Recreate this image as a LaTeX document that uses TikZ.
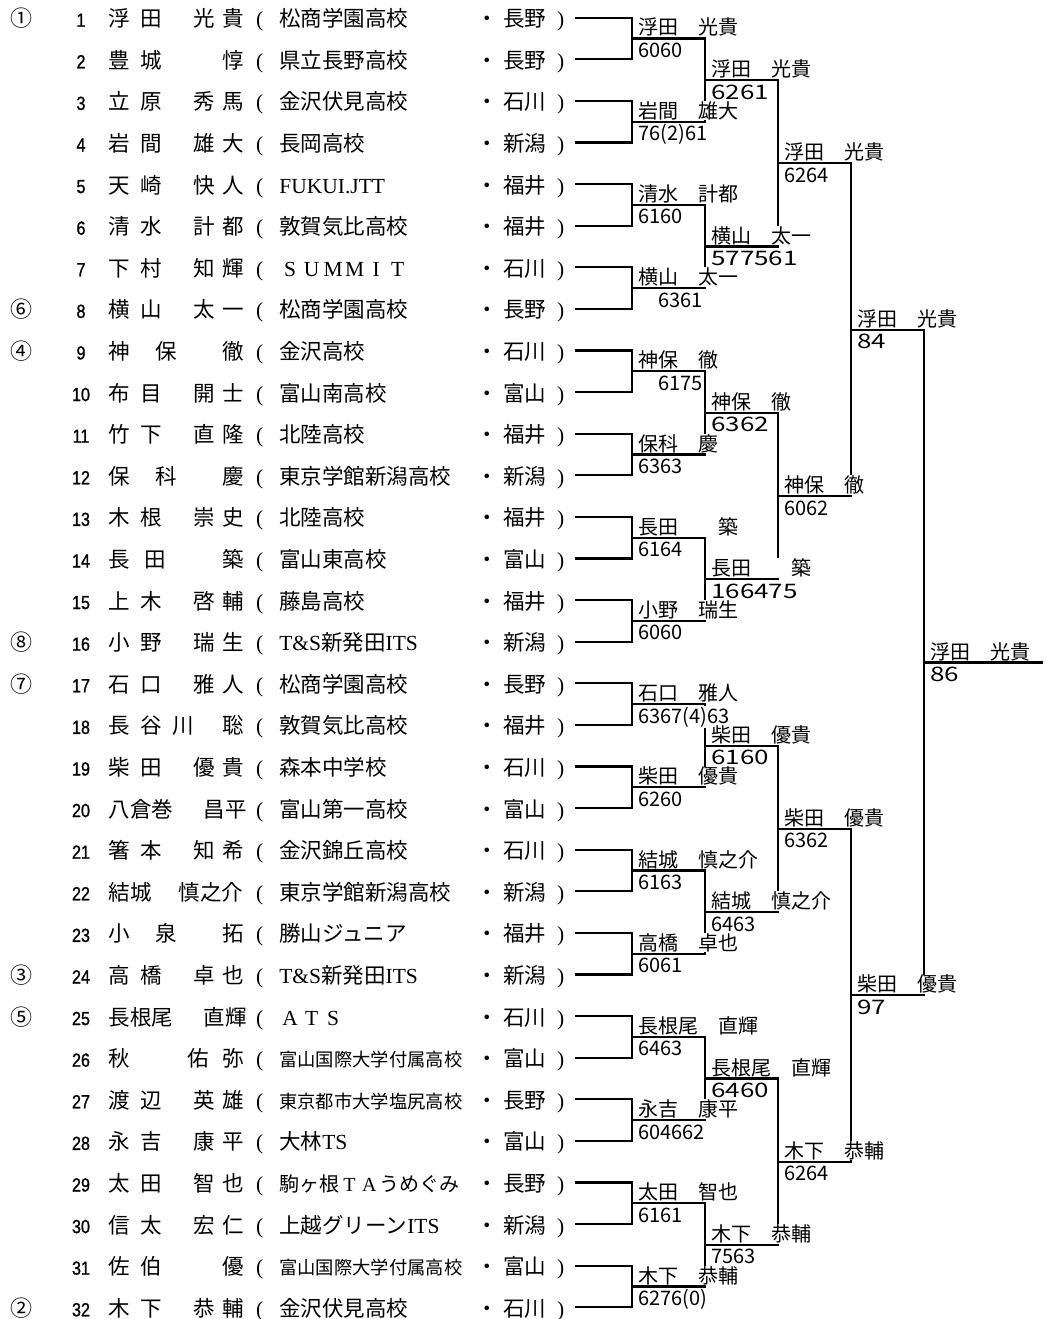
\documentclass[tikz,border=0pt]{standalone}
\usepackage{fontspec}
\setmainfont{Noto Sans CJK JP}
\newfontfamily\latf{Liberation Serif}
\newfontfamily\numf[FakeStretch=0.85,FakeBold=1]{Liberation Sans}
\newcommand\chat[2]{\makebox[0pt][l]{\hspace*{#1pt}#2}}
\newcommand\nmA[4]{\chat{0}{#1}\chat{32}{#2}\chat{85}{#3}\chat{114}{#4}}
\newcommand\nmB[3]{\chat{0}{#1}\chat{32}{#2}\chat{114}{#3}}
\newcommand\nmC[3]{\chat{0}{#1}\chat{47}{#2}\chat{114}{#3}}
\newcommand\fwl[1]{\makebox[1em]{\latf #1}}
\newcommand\wsc{\addfontfeature{FakeStretch=1.3}}
\newcommand\smsch{\fontsize{18.3}{20}\selectfont}
\newcommand\midsch{\fontsize{20}{22}\selectfont}

\begin{document}
\begin{tikzpicture}[x=1pt,y=-1pt,
  bk/.style={line width=2.2pt},
  lft/.style={anchor=base west, inner sep=0pt, font=\fontsize{21.5}{24}\selectfont},
  numtxt/.style={anchor=base, inner sep=0pt, font=\numf\fontsize{19}{21}\selectfont},
  seedtxt/.style={anchor=base, inner sep=0pt, font=\fontsize{22}{24}\selectfont},
  win/.style={anchor=base west, fill=white, inner xsep=1pt, inner ysep=0.5pt, font=\fontsize{20}{22}\selectfont},
  res/.style={anchor=base west, fill=white, inner xsep=1pt, inner ysep=0.5pt, font=\fontsize{20}{22}\selectfont}]
\useasboundingbox (0,0) rectangle (1046,1319);

% slots of the draw
\foreach \i in {1,...,32} \coordinate (p\i) at (575,{17.7+41.6*(\i-1)});
\foreach \k in {1,...,16} \coordinate (a\k) at (632,{38.5+83.2*(\k-1)});
\foreach \k in {1,...,8} \coordinate (b\k) at (705,{80.1+166.4*(\k-1)});
\foreach \k in {1,...,4} \coordinate (c\k) at (778,{163.3+332.8*(\k-1)});
\foreach \k in {1,2} \coordinate (d\k) at (851,{329.7+665.6*(\k-1)});
\coordinate (e) at (924,662.5);
\coordinate (f) at (1043,662.5);

% bracket lines
\foreach \k [evaluate=\k as \u using int(2*\k-1), evaluate=\k as \v using int(2*\k)] in {1,...,16}
  \draw[bk] (p\u) -| (a\k) |- (p\v);
\foreach \k [evaluate=\k as \u using int(2*\k-1), evaluate=\k as \v using int(2*\k)] in {1,...,8}
  \draw[bk] (a\u) -| (b\k) |- (a\v);
\foreach \k [evaluate=\k as \u using int(2*\k-1), evaluate=\k as \v using int(2*\k)] in {1,...,4}
  \draw[bk] (b\u) -| (c\k) |- (b\v);
\foreach \k [evaluate=\k as \u using int(2*\k-1), evaluate=\k as \v using int(2*\k)] in {1,2}
  \draw[bk] (c\u) -| (d\k) |- (c\v);
\draw[bk] (d1) -| (e) |- (d2);
\draw[bk] (e) -- (f);

% seeds
\node[seedtxt] (s1) at (21,{26.7+41.6*0}) {①};
\node[seedtxt] (s6) at (21,{26.7+41.6*7}) {⑥};
\node[seedtxt] (s4) at (21,{26.7+41.6*8}) {④};
\node[seedtxt] (s8) at (21,{26.7+41.6*15}) {⑧};
\node[seedtxt] (s7) at (21,{26.7+41.6*16}) {⑦};
\node[seedtxt] (s3) at (21,{26.7+41.6*23}) {③};
\node[seedtxt] (s5) at (21,{26.7+41.6*24}) {⑤};
\node[seedtxt] (s2) at (21,{26.7+41.6*31}) {②};

% players
\foreach \i/\nm/\sch/\pf in {
  1/\nmA{浮}{田}{光}{貴}/松商学園高校/長野,
  2/\nmB{豊}{城}{惇}/県立長野高校/長野,
  3/\nmA{立}{原}{秀}{馬}/金沢伏見高校/石川,
  4/\nmA{岩}{間}{雄}{大}/長岡高校/新潟,
  5/\nmA{天}{崎}{快}{人}/{\latf FUKUI.JTT}/福井,
  6/\nmA{清}{水}{計}{都}/敦賀気比高校/福井,
  7/\nmA{下}{村}{知}{輝}/{\fwl{S}\fwl{U}\fwl{M}\fwl{M}\fwl{I}\fwl{T}}/石川,
  8/\nmA{横}{山}{太}{一}/松商学園高校/長野,
  9/\nmC{神}{保}{徹}/金沢高校/石川,
  10/\nmA{布}{目}{開}{士}/富山南高校/富山,
  11/\nmA{竹}{下}{直}{隆}/北陸高校/福井,
  12/\nmC{保}{科}{慶}/東京学館新潟高校/新潟,
  13/\nmA{木}{根}{崇}{史}/北陸高校/福井,
  14/{\chat{0}{長}\chat{36}{田}\chat{114}{築}}/富山東高校/富山,
  15/\nmA{上}{木}{啓}{輔}/藤島高校/福井,
  16/\nmA{小}{野}{瑞}{生}/{{\latf T\&S}新発田{\latf ITS}}/新潟,
  17/\nmA{石}{口}{雅}{人}/松商学園高校/長野,
  18/{\chat{0}{長}\chat{32}{谷}\chat{64}{川}\chat{114}{聡}}/敦賀気比高校/福井,
  19/\nmA{柴}{田}{優}{貴}/森本中学校/石川,
  20/{\chat{0}{八倉巻}\chat{95}{昌平}}/富山第一高校/富山,
  21/\nmA{箸}{本}{知}{希}/金沢錦丘高校/石川,
  22/{\chat{0}{結城}\chat{70}{慎之介}}/東京学館新潟高校/新潟,
  23/\nmC{小}{泉}{拓}/勝山ジュニア/福井,
  24/\nmA{高}{橋}{卓}{也}/{{\latf T\&S}新発田{\latf ITS}}/新潟,
  25/{\chat{0}{長根尾}\chat{95}{直輝}}/{\fwl{A}\fwl{T}\fwl{S}}/石川,
  26/{\chat{0}{秋}\chat{79}{佑}\chat{114}{弥}}/{\smsch 富山国際大学付属高校}/富山,
  27/\nmA{渡}{辺}{英}{雄}/{\smsch 東京都市大学塩尻高校}/長野,
  28/\nmA{永}{吉}{康}{平}/{大林{\latf TS}}/富山,
  29/\nmA{太}{田}{智}{也}/{\midsch 駒ヶ根\fwl{T}\fwl{A}うめぐみ}/長野,
  30/\nmA{信}{太}{宏}{仁}/{上越グリーン{\latf ITS}}/新潟,
  31/\nmB{佐}{伯}{優}/{\smsch 富山国際大学付属高校}/富山,
  32/\nmA{木}{下}{恭}{輔}/金沢伏見高校/石川}
{
  \node[numtxt] (num\i) at (81,{26.7+41.6*(\i-1)}) {\i};
  \node[lft] (name\i) at (108,{26.7+41.6*(\i-1)}) {\nm};
  \node[lft] (sch\i) at (256,{26.7+41.6*(\i-1)}) {{\latf (}\hspace{16pt}\sch};
  \node[lft] (pf\i) at (476,{26.7+41.6*(\i-1)}) {・\hspace{5.5pt}\pf\hspace{11pt}{\latf )}};
}

% first round
\foreach \k/\w/\s/\dx in {1/浮田　光貴/6060/5, 2/岩間　雄大/76(2)61/5,
  3/清水　計都/6160/5, 4/横山　太一/6361/25, 5/神保　徹/6175/25,
  6/保科　慶/6363/5, 7/長田　　築/6164/5, 8/小野　瑞生/6060/5,
  9/石口　雅人/6367(4)63/5, 10/柴田　優貴/6260/5, 11/結城　慎之介/6163/5,
  12/高橋　卓也/6061/5, 13/長根尾　直輝/6463/5, 14/永吉　康平/604662/5,
  15/太田　智也/6161/5, 16/木下　恭輔/6276(0)/5}
{
  \node[win] (wa\k) at ([xshift=5pt,yshift=3.5pt]a\k) {\w};
  \node[res] (ra\k) at ([xshift=\dx pt,yshift=-19pt]a\k) {\s};
}

% second round
\foreach \k/\w/\s in {1/浮田　光貴/\wsc 6261, 2/横山　太一/\wsc 577561,
  3/神保　徹/\wsc 6362, 4/長田　　築/\wsc 166475, 5/柴田　優貴/\wsc 6160,
  6/結城　慎之介/6463, 7/長根尾　直輝/\wsc 6460, 8/木下　恭輔/7563}
{
  \node[win] (wb\k) at ([xshift=5pt,yshift=3.5pt]b\k) {\w};
  \node[res] (rb\k) at ([xshift=5pt,yshift=-19pt]b\k) {\s};
}

% quarter finals
\foreach \k/\w/\s in {1/浮田　光貴/6264, 2/神保　徹/6062, 3/柴田　優貴/6362, 4/木下　恭輔/6264}
{
  \node[win] (wc\k) at ([xshift=5pt,yshift=3.5pt]c\k) {\w};
  \node[res] (rc\k) at ([xshift=5pt,yshift=-19pt]c\k) {\s};
}

% semi finals
\foreach \k/\w/\s in {1/浮田　光貴/\wsc 84, 2/柴田　優貴/\wsc 97}
{
  \node[win] (wd\k) at ([xshift=5pt,yshift=3.5pt]d\k) {\w};
  \node[res] (rd\k) at ([xshift=5pt,yshift=-19pt]d\k) {\s};
}

% final
\node[win] (we) at ([xshift=5pt,yshift=3.5pt]e) {浮田　光貴};
\node[res] (re) at ([xshift=5pt,yshift=-19pt]e) {\wsc 86};
\end{tikzpicture}
\end{document}
